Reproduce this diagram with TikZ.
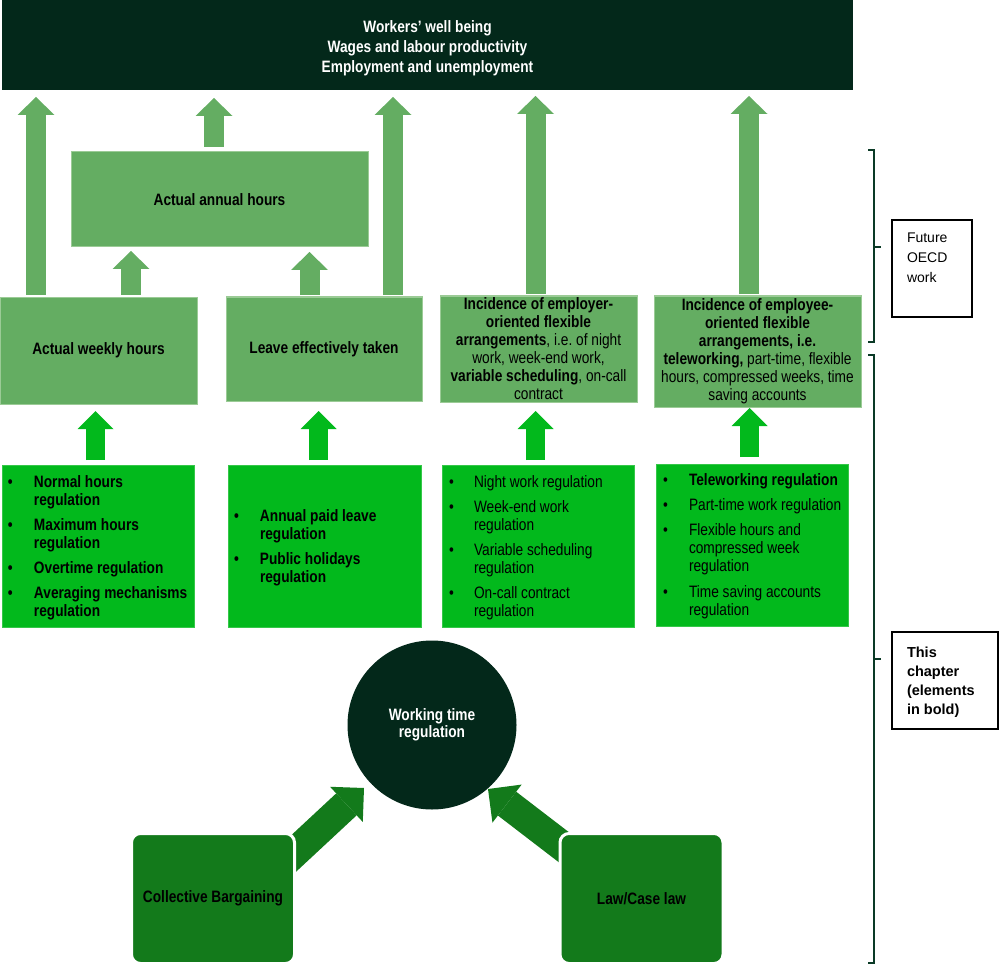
\documentclass[tikz,border=0pt]{standalone}
\usepackage{fontspec}
\setmainfont{Liberation Sans}[FakeStretch=0.83]
\newfontfamily\sidefont{Liberation Sans}
\usetikzlibrary{calc,arrows.meta,backgrounds}
\definecolor{cBanner}{RGB}{3,40,26}
\definecolor{cLight}{RGB}{100,173,98}
\definecolor{cLightEdge}{RGB}{155,203,150}
\definecolor{cBright}{RGB}{2,185,28}
\definecolor{cMid}{RGB}{19,122,27}
\definecolor{cBrack}{RGB}{10,58,38}
\frenchspacing
\begin{document}
\begin{tikzpicture}[x=1pt,y=-1pt,
  every node/.style={inner sep=0pt, outer sep=0pt, font=\fontsize{16.5}{18}\selectfont},
  bannerbox/.style={fill=cBanner, minimum width=851pt, minimum height=90pt},
  bannertxt/.style={text=white, align=center, font=\fontsize{16.5}{20}\selectfont\bfseries},
  outbox/.style={fill=cLight, draw=cLightEdge, line width=1pt, align=center},
  regbox/.style={fill=cBright, draw=cBright!80!white, line width=0.6pt},
  listtxt/.style={anchor=base west},
  srcbox/.style={fill=cMid, draw=white, line width=3pt, rounded corners=9pt,
     minimum width=163pt, minimum height=130pt, font=\fontsize{16.5}{18}\selectfont\bfseries},
  wtrnode/.style={circle, fill=cBanner, minimum size=169pt, text=white, align=center,
     font=\fontsize{16.5}{17.5}\selectfont\bfseries},
  sidebox/.style={draw=black, line width=1.2pt, fill=white},
  sidetxt/.style={anchor=base west},
  upL/.style={draw=cLight, line width=20pt, -{Triangle[length=18pt,width=37pt,line width=0pt]}},
  upB/.style={draw=cBright, line width=19pt, -{Triangle[length=18pt,width=36pt,line width=0pt]}},
  diagA/.style={draw=cMid, line width=30pt, -{Triangle[length=24pt,width=48pt,line width=0pt]}},
  brackline/.style={draw=cBrack, line width=1.5pt}
]
\useasboundingbox (0,0) rectangle (1000,965);

% top banner
\node[bannerbox] (banner) at (427.5,45) {};
\node[bannertxt] (bannertext) at (427.5,48) {Workers’ well being\\Wages and labour productivity\\Employment and unemployment};

% outcome boxes
\node[outbox, minimum width=297pt, minimum height=95pt] (annual) at (219.5,199.5) {\textbf{Actual annual hours}};
\node[outbox, minimum width=197pt, minimum height=107pt] (weekly) at (98.5,350.5) {\textbf{Actual weekly hours}};
\node[outbox, minimum width=196pt, minimum height=104pt] (leave) at (324,349) {\textbf{Leave effectively taken}};
\node[outbox, minimum width=197pt, minimum height=106pt] (employer) at (538.5,349)
  {\textbf{Incidence of employer-}\\\textbf{oriented flexible}\\\textbf{arrangements}, i.e.\ of night\\work, week-end work,\\\textbf{variable scheduling}, on-call\\contract};
\node[outbox, minimum width=207pt, minimum height=111pt] (employee) at (757.5,351.5)
  {\textbf{Incidence of employee-}\\\textbf{oriented flexible}\\\textbf{arrangements, i.e.}\\\textbf{teleworking,} part-time, flexible\\hours, compressed weeks, time\\saving accounts};

% regulation boxes
\node[regbox, minimum width=192pt, minimum height=162pt] (reg1) at (98,546) {};
\node[regbox, minimum width=193pt, minimum height=162pt] (reg2) at (324.5,546) {};
\node[regbox, minimum width=192pt, minimum height=162pt] (reg3) at (538,546) {};
\node[regbox, minimum width=192pt, minimum height=162pt] (reg4) at (752,545) {};

\node[listtxt] (list1) at (8,487) {\bfseries\begin{tabular}[t]{@{}p{26pt}@{}l@{}}
•&Normal hours\\ &regulation\\[7pt]
•&Maximum hours\\ &regulation\\[7pt]
•&Overtime regulation\\[7pt]
•&Averaging mechanisms\\ &regulation
\end{tabular}};
\node[listtxt] (list2) at (234,521) {\bfseries\begin{tabular}[t]{@{}p{26pt}@{}l@{}}
•&Annual paid leave\\ &regulation\\[7pt]
•&Public holidays\\ &regulation
\end{tabular}};
\node[listtxt] (list3) at (449,487) {\begin{tabular}[t]{@{}p{25pt}@{}l@{}}
•&Night work regulation\\[7pt]
•&Week-end work\\ &regulation\\[7pt]
•&Variable scheduling\\ &regulation\\[7pt]
•&On-call contract\\ &regulation
\end{tabular}};
\node[listtxt] (list4) at (663,485) {\begin{tabular}[t]{@{}p{26pt}@{}l@{}}
•&\textbf{Teleworking regulation}\\[7pt]
•&Part-time work regulation\\[7pt]
•&Flexible hours and\\ &compressed week\\ &regulation\\[8pt]
•&Time saving accounts\\ &regulation
\end{tabular}};

% light block arrows
\draw[upL] ($(weekly.north west)+(36,-2)$) -- ($(weekly.north west |- banner.south)+(36,7)$);
\draw[upL] ($(annual.north west)+(143,-5)$) -- ($(annual.north west |- banner.south)+(143,8)$);
\draw[upL] ($(leave.north east)+(-29,-2)$) -- ($(leave.north east |- banner.south)+(-29,7)$);
\draw[upL] ($(employer.north)+(-3,-2)$) -- ($(employer.north |- banner.south)+(-3,6)$);
\draw[upL] ($(employee.north)+(-8.5,-2)$) -- ($(employee.north |- banner.south)+(-8.5,6)$);
\draw[upL] ($(weekly.north west)+(131,-2)$) -- ($(weekly.north west |- annual.south)+(131,4)$);
\draw[upL] ($(leave.north west)+(83.5,-2)$) -- ($(leave.north west |- annual.south)+(83.5,5)$);

% bright block arrows
\draw[upB] ($(reg1.north west)+(93.5,-5)$) -- ($(reg1.north west |- weekly.south)+(93.5,7)$);
\draw[upB] ($(reg2.north west)+(90.5,-5)$) -- ($(reg2.north west |- leave.south)+(90.5,10)$);
\draw[upB] ($(reg3.north west)+(93.5,-5)$) -- ($(reg3.north west |- employer.south)+(93.5,9)$);
\draw[upB] ($(reg4.north west)+(93.5,-7)$) -- ($(reg4.north west |- employee.south)+(93.5,1)$);

% bottom part
\node[wtrnode] (wtr) at (432,725) {Working time\\regulation};
\node[srcbox] (coll) at (213,898.5) {Collective Bargaining};
\node[srcbox] (law) at (641.5,898.5) {Law/Case law};
\begin{pgfonlayer}{background}
\draw[diagA] ($(coll.north east)+(-17,35)$) -- ($(wtr.center)+(-68,63)$);
\draw[diagA] ($(law.north west)+(29,33)$) -- ($(wtr.center)+(56,64)$);
\end{pgfonlayer}

% brackets and side labels
\draw[brackline] (868,150) -- (874,150) -- (874,342) -- (868,342);
\draw[brackline] (874,247) -- (881,247);
\draw[brackline] (868,355) -- (874,355) -- (874,963) -- (868,963);
\draw[brackline] (874,659) -- (881,659);

\node[sidebox, minimum width=80pt, minimum height=97pt] (future) at (932,268.5) {};
\node[sidetxt] (futuretxt) at (907,243) {\sidefont\fontsize{14}{20}\selectfont\begin{tabular}[t]{@{}l@{}}Future\\OECD\\work\end{tabular}};
\node[sidebox, minimum width=106pt, minimum height=97pt] (chapter) at (945,680.5) {};
\node[sidetxt] (chaptertxt) at (907,657) {\sidefont\fontsize{14.5}{19.3}\selectfont\bfseries\begin{tabular}[t]{@{}l@{}}This\\chapter\\(elements\\in bold)\end{tabular}};
\end{tikzpicture}
\end{document}
